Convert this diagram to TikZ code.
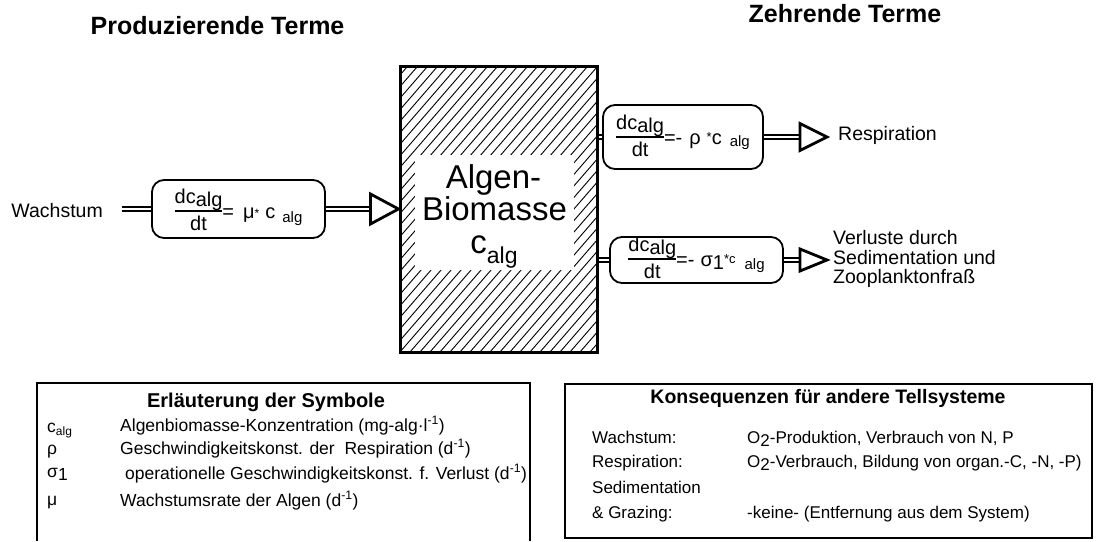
\documentclass[tikz,border=0pt]{standalone}
\usepackage{fontspec}
\setmainfont{Liberation Sans}
\usetikzlibrary{calc}
\newcommand\fsz[1]{\fontsize{#1}{#1}\selectfont}
\newcommand\dcdt{{\setlength\arrayrulewidth{1.3pt}\begin{tabular}[c]{@{}c@{}}dc\raisebox{-3pt}{alg}\\\hline\rule{0pt}{19pt}dt\end{tabular}}}
\begin{document}
\begin{tikzpicture}[x=1pt,y=-1pt,
  ttl/.style={inner sep=0, font=\fsz{25}\bfseries},
  lbl/.style={inner sep=0, font=\fsz{19.5}},
  eqbox/.style={draw, line width=1.8pt, rounded corners=12pt, inner sep=0, font=\fsz{20}},
  flow/.style={line width=2.2pt, double, double distance=2.4pt},
  tri/.style={draw, line width=2.8pt, fill=white, line join=miter},
  hatch/.style={line width=0.9pt},
  frame/.style={line width=1.6pt},
  sym/.style={inner sep=0, anchor=base west, font=\fsz{17.5}},
  cons/.style={inner sep=0, anchor=base west, font=\fsz{17}},
]
\useasboundingbox (0,0) rectangle (1098,541);

% titles
\node[ttl, anchor=base] (tprod) at (217.5,34) {Produzierende Terme};
\node[ttl, anchor=base] (tzehr) at (845,22) {Zehrende Terme};

% Algen box with hatch
\begin{scope}
  \clip (400,66) rectangle (597,352);
  \foreach \i in {150,160,...,600} \draw[hatch] (\i,352) -- ++(260,-300);
\end{scope}
\fill[white] (415,155) rectangle (574,270);
\node[draw, line width=3pt, minimum width=197pt, minimum height=286pt, inner sep=0] (alg) at (498.5,209) {};
\node[inner sep=0, anchor=base, font=\fsz{33}] (alg1) at (493.5,188) {Algen-};
\node[inner sep=0, anchor=base, font=\fsz{33}] (alg2) at (494.5,220) {Biomasse};
\node[inner sep=0, anchor=base, font=\fsz{33}] (alg3) at (494,253) {c\raisebox{-10pt}{\fsz{23}alg}};

% producing term
\node[lbl, anchor=base east] (wach) at (103,217) {Wachstum};
\node[eqbox, minimum width=173pt, minimum height=58pt, text height=38pt, text depth=20pt] (eq1) at (238.5,209)
  {\dcdt=\hspace{9pt}μ\raisebox{1pt}{\fsz{12}*}\hspace{6pt}c\hspace{7pt}\raisebox{-4pt}{\fsz{15}alg}};
\path (wach.east |- eq1.west) coordinate (w1);
\draw[flow] ([xshift=19pt]w1) -- (eq1.west);
\draw[flow] (eq1.east) -- ([xshift=-28pt]alg.west);
\draw[tri] (alg.west) -- ++(-28,-15) -- ++(0,30) -- cycle;

% respiration
\node[eqbox, minimum width=160pt, minimum height=64pt, text height=39pt, text depth=25pt] (eq2) at (683,137)
  {\dcdt=-\hspace{7pt}ρ\hspace{6pt}\raisebox{3pt}{\fsz{13}*}c\hspace{8pt}\raisebox{-2pt}{\fsz{15}alg}};
\node[lbl, anchor=base west] (resp) at (838,140) {Respiration};
\coordinate (t2) at (827,137);
\draw[flow] (alg.east |- eq2.west) -- (eq2.west);
\draw[flow] (eq2.east) -- ([xshift=-27pt]t2);
\draw[tri] (t2) -- ++(-27,-13.5) -- ++(0,27) -- cycle;

% losses
\node[eqbox, minimum width=173pt, minimum height=46pt, text height=29pt, text depth=17pt] (eq3) at (696.5,260)
  {\dcdt=-\hspace{6pt}σ\raisebox{-3pt}{1}\raisebox{3pt}{\fsz{13}*c}\hspace{9pt}\raisebox{-3pt}{\fsz{15}alg}};
\node[lbl, anchor=west, align=left] (verl) at (833,259) {Verluste durch\\Sedimentation und\\Zooplanktonfraß};
\coordinate (t3) at (827,260);
\draw[flow] (alg.east |- eq3.west) -- (eq3.west);
\draw[flow] (eq3.east) -- ([xshift=-27pt]t3);
\draw[tri] (t3) -- ++(-27,-11) -- ++(0,22) -- cycle;

% symbols box
\draw[frame] (37,541) -- (37,383) -- (530,383) -- (530,541);
\node[inner sep=0, anchor=base, font=\fsz{20}\bfseries] (symt) at (266,407) {Erläuterung der Symbole};
\node[sym] (s1) at (47,432) {c\raisebox{-3pt}{\fsz{12}alg}};
\node[sym] (s2) at (47,454) {ρ};
\node[sym] (s3) at (47,477) {σ\raisebox{-3pt}{1}};
\node[sym] (s4) at (47,505) {μ};
\node[sym] (d1) at (120,431) {Algenbiomasse-Konzentration (mg-alg·l\textsuperscript{-1})};
\node[sym] (d2) at (120,454) {Geschwindigkeitskonst. der\ \ Respiration (d\textsuperscript{-1})};
\node[sym] (d3) at (125,479) {operationelle Geschwindigkeitskonst. f. Verlust (d\textsuperscript{-1})};
\node[sym] (d4) at (120,506) {Wachstumsrate der Algen (d\textsuperscript{-1})};

% consequences box
\draw[frame] (565,384) rectangle (1092,538);
\node[inner sep=0, anchor=base, font=\fsz{19.5}\bfseries] (kt) at (828,403) {Konsequenzen für andere Tellsysteme};
\node[cons] (k1) at (592,443) {Wachstum:};
\node[cons] (k2) at (592,467) {Respiration:};
\node[cons] (k3) at (592,493) {Sedimentation};
\node[cons] (k4) at (592,518) {\& Grazing:};
\node[cons] (v1) at (747,443) {O\raisebox{-3pt}{2}-Produktion, Verbrauch von N, P};
\node[cons] (v2) at (747,467) {O\raisebox{-3pt}{2}-Verbrauch, Bildung von organ.-C, -N, -P)};
\node[cons] (v3) at (747,518) {-keine- (Entfernung aus dem System)};
\end{tikzpicture}
\end{document}
